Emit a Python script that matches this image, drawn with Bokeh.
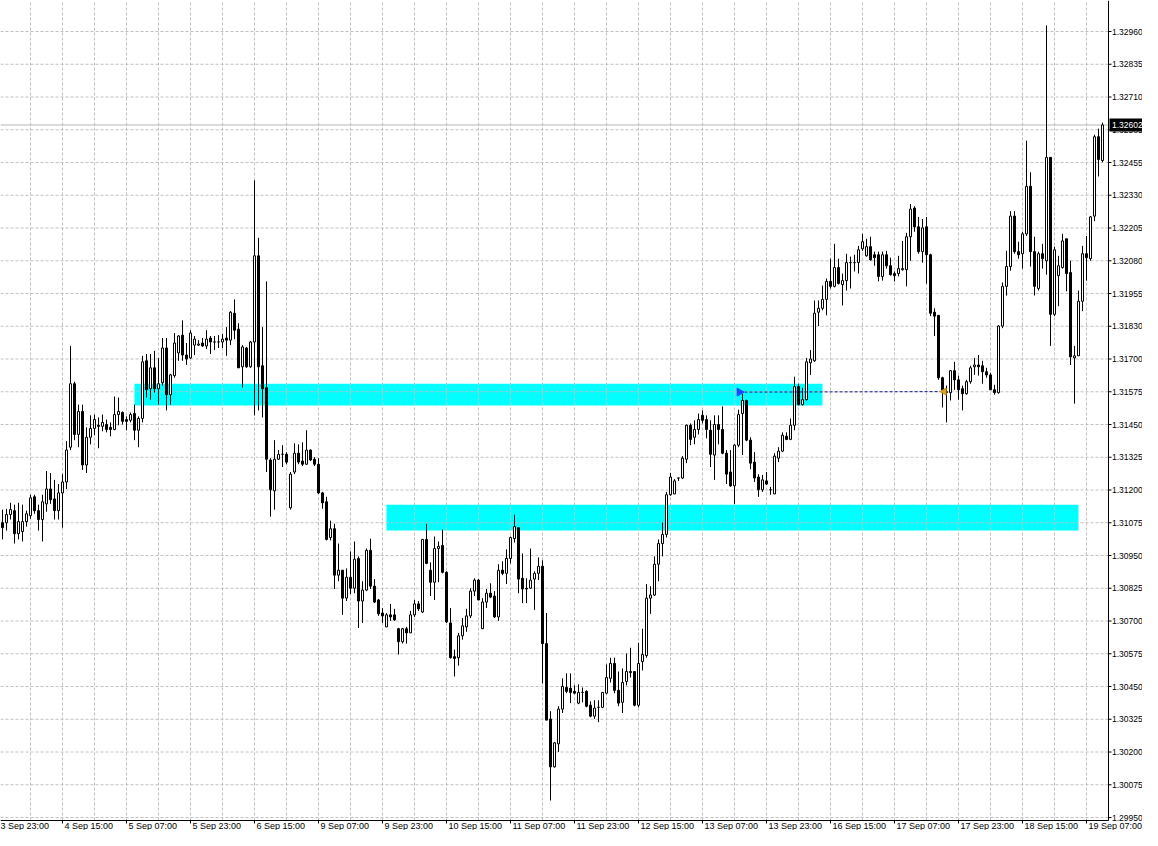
from math import pi
from bokeh.plotting import figure
from bokeh.models import Range1d
from bokeh.core.properties import value
from bokeh.embed import file_html
from bokeh.resources import INLINE

opens = [
 1.31079,1.31079,1.31110,1.31125,1.31037,1.31045,1.31083,1.31106,1.31178,1.31125,
 1.31091,1.31151,1.31208,1.31170,1.31125,1.31193,1.31235,1.31368,1.31611,1.31417,
 1.31505,1.31300,1.31406,1.31440,1.31452,1.31448,1.31455,1.31444,1.31436,1.31493,
 1.31501,1.31474,1.31471,1.31497,1.31433,1.31478,1.31699,1.31592,1.31672,1.31592,
 1.31615,1.31748,1.31569,1.31642,1.31729,1.31797,1.31721,1.31710,1.31759,1.31759,
 1.31767,1.31756,1.31786,1.31771,1.31771,1.31771,1.31786,1.31778,1.31881,1.31820,
 1.31676,1.31748,1.31676,1.31771,1.32101,1.31680,1.31596,1.31319,1.31201,1.31322,
 1.31341,1.31341,1.31136,1.31273,1.31345,1.31315,1.31303,1.31357,1.31322,1.31303,
 1.31193,1.31159,1.31022,1.31056,1.30878,1.30897,1.30790,1.30870,1.30828,1.30942,
 1.30779,1.30821,1.30973,1.30836,1.30783,1.30733,1.30680,1.30726,1.30726,1.30673,
 1.30623,1.30673,1.30657,1.30726,1.30768,1.30737,1.31015,1.30897,1.30851,1.30980,
 1.30992,1.30889,1.30695,1.30566,1.30562,1.30646,1.30680,1.30722,1.30817,1.30859,
 1.30673,1.30775,1.30809,1.30798,1.30718,1.30897,1.30885,1.30942,1.31018,1.31060,
 1.30866,1.30828,1.30828,1.30863,1.30885,1.30912,1.30616,1.30327,1.30144,1.30232,
 1.30365,1.30448,1.30445,1.30433,1.30388,1.30429,1.30433,1.30380,1.30338,1.30372,
 1.30372,1.30426,1.30483,1.30540,1.30437,1.30391,1.30471,1.30509,1.30509,1.30380,
 1.30547,1.30570,1.30790,1.30802,1.30920,1.30999,1.31034,1.31186,1.31189,1.31250,
 1.31250,1.31322,1.31452,1.31406,1.31436,1.31490,1.31474,1.31433,1.31338,1.31455,
 1.31436,1.31345,1.31273,1.31220,1.31376,1.31497,1.31547,1.31395,1.31311,1.31254,
 1.31205,1.31239,1.31205,1.31189,1.31326,1.31353,1.31410,1.31398,1.31452,1.31600,
 1.31531,1.31550,1.31691,1.31699,1.31885,1.31900,1.31934,1.32003,1.31984,1.32056,
 1.31991,1.32006,1.32075,1.32075,1.32075,1.32128,1.32101,1.32136,1.32105,1.32105,
 1.32022,1.32105,1.32063,1.32033,1.32033,1.32048,1.32048,1.32174,1.32284,1.32212,
 1.32117,1.32212,1.32105,1.31885,1.31873,1.31634,1.31577,1.31577,1.31661,1.31626,
 1.31592,1.31573,1.31619,1.31676,1.31683,1.31680,1.31657,1.31645,1.31588,1.31577,
 1.31832,1.31984,1.32060,1.32253,1.32117,1.32109,1.32185,1.32367,1.32117,1.31976,
 1.32109,1.32082,1.32478,1.31877,1.32025,1.32056,1.32166,1.32037,1.31710,1.31718,
 1.31927,1.32109,1.32090,1.32253,1.32557,1.32466]

highs = [
 1.31129,1.31132,1.31155,1.31148,1.31155,1.31148,1.31125,1.31186,1.31186,1.31148,
 1.31186,1.31277,1.31269,1.31243,1.31227,1.31265,1.31391,1.31756,1.31619,1.31531,
 1.31531,1.31444,1.31490,1.31493,1.31482,1.31493,1.31474,1.31463,1.31562,1.31558,
 1.31505,1.31486,1.31501,1.31531,1.31486,1.31718,1.31725,1.31725,1.31737,1.31710,
 1.31786,1.31786,1.31649,1.31805,1.31797,1.31854,1.31767,1.31816,1.31794,1.31778,
 1.31786,1.31816,1.31794,1.31794,1.31797,1.31801,1.31828,1.31889,1.31934,1.31843,
 1.31759,1.31752,1.31775,1.32390,1.32170,1.31828,1.32003,1.31326,1.31395,1.31357,
 1.31376,1.31349,1.31273,1.31383,1.31379,1.31387,1.31433,1.31360,1.31330,1.31326,
 1.31197,1.31178,1.31087,1.31075,1.30999,1.30897,1.30904,1.30969,1.31007,1.30950,
 1.30855,1.30980,1.31018,1.30863,1.30787,1.30752,1.30733,1.30768,1.30749,1.30676,
 1.30676,1.30680,1.30741,1.30783,1.30779,1.31015,1.31075,1.30927,1.31026,1.31007,
 1.31053,1.30893,1.30752,1.30593,1.30657,1.30714,1.30749,1.30828,1.30866,1.30863,
 1.30790,1.30825,1.30847,1.30817,1.30920,1.30931,1.30977,1.31026,1.31110,1.31060,
 1.30961,1.30866,1.30980,1.30893,1.30946,1.30935,1.30733,1.30357,1.30239,1.30376,
 1.30483,1.30502,1.30502,1.30456,1.30460,1.30448,1.30437,1.30395,1.30399,1.30399,
 1.30429,1.30536,1.30562,1.30562,1.30509,1.30521,1.30578,1.30600,1.30509,1.30619,
 1.30673,1.30844,1.30836,1.30950,1.31015,1.31079,1.31197,1.31269,1.31246,1.31250,
 1.31334,1.31455,1.31459,1.31471,1.31497,1.31509,1.31490,1.31471,1.31490,1.31490,
 1.31524,1.31357,1.31357,1.31379,1.31512,1.31573,1.31550,1.31406,1.31349,1.31265,
 1.31262,1.31273,1.31216,1.31345,1.31368,1.31425,1.31425,1.31478,1.31638,1.31611,
 1.31596,1.31710,1.31740,1.31930,1.31930,1.31987,1.32014,1.32090,1.32147,1.32090,
 1.32033,1.32109,1.32098,1.32105,1.32139,1.32185,1.32166,1.32174,1.32117,1.32117,
 1.32117,1.32120,1.32094,1.32041,1.32101,1.32158,1.32189,1.32299,1.32291,1.32250,
 1.32242,1.32250,1.32109,1.31900,1.31873,1.31638,1.31604,1.31664,1.31695,1.31642,
 1.31604,1.31626,1.31680,1.31710,1.31721,1.31699,1.31672,1.31653,1.31607,1.31835,
 1.31999,1.32120,1.32272,1.32272,1.32155,1.32193,1.32542,1.32421,1.32174,1.32117,
 1.32147,1.32983,1.32478,1.32136,1.32101,1.32185,1.32166,1.32082,1.31756,1.31968,
 1.32139,1.32177,1.32253,1.32565,1.32588,1.32611]

lows = [
 1.31015,1.31049,1.31091,1.30999,1.31015,1.31007,1.31064,1.31094,1.31113,1.31049,
 1.31007,1.31121,1.31151,1.31091,1.31091,1.31060,1.31208,1.31357,1.31395,1.31368,
 1.31281,1.31269,1.31379,1.31414,1.31364,1.31429,1.31425,1.31410,1.31433,1.31452,
 1.31455,1.31433,1.31463,1.31395,1.31368,1.31463,1.31558,1.31550,1.31577,1.31531,
 1.31604,1.31509,1.31531,1.31634,1.31699,1.31699,1.31683,1.31706,1.31721,1.31756,
 1.31752,1.31744,1.31725,1.31740,1.31748,1.31748,1.31718,1.31759,1.31782,1.31672,
 1.31596,1.31672,1.31672,1.31490,1.31509,1.31482,1.31273,1.31102,1.31129,1.31319,
 1.31292,1.31303,1.31129,1.31265,1.31303,1.31296,1.31300,1.31315,1.31296,1.31189,
 1.31132,1.31011,1.31011,1.30825,1.30855,1.30726,1.30779,1.30806,1.30809,1.30676,
 1.30695,1.30817,1.30825,1.30771,1.30722,1.30695,1.30680,1.30703,1.30703,1.30574,
 1.30616,1.30616,1.30657,1.30718,1.30741,1.30733,1.30920,1.30798,1.30783,1.30851,
 1.30885,1.30695,1.30559,1.30490,1.30532,1.30631,1.30661,1.30714,1.30798,1.30783,
 1.30673,1.30752,1.30790,1.30714,1.30703,1.30878,1.30844,1.30923,1.31003,1.30809,
 1.30771,1.30771,1.30825,1.30745,1.30859,1.30464,1.30323,1.30015,1.30141,1.30201,
 1.30350,1.30426,1.30388,1.30422,1.30384,1.30391,1.30372,1.30334,1.30327,1.30315,
 1.30369,1.30422,1.30467,1.30426,1.30376,1.30350,1.30456,1.30486,1.30376,1.30372,
 1.30513,1.30562,1.30730,1.30798,1.30855,1.30950,1.31022,1.31182,1.31189,1.31239,
 1.31246,1.31307,1.31376,1.31379,1.31417,1.31459,1.31402,1.31292,1.31243,1.31379,
 1.31341,1.31227,1.31216,1.31151,1.31368,1.31338,1.31391,1.31284,1.31235,1.31178,
 1.31197,1.31224,1.31186,1.31189,1.31311,1.31349,1.31395,1.31395,1.31433,1.31528,
 1.31528,1.31547,1.31645,1.31695,1.31832,1.31892,1.31873,1.31976,1.31980,1.31991,
 1.31911,1.31968,1.31976,1.32041,1.32033,1.32120,1.32098,1.32082,1.32063,1.32003,
 1.32006,1.32052,1.32025,1.32003,1.32022,1.32044,1.31984,1.32082,1.32193,1.32109,
 1.32075,1.31995,1.31870,1.31794,1.31626,1.31520,1.31463,1.31547,1.31588,1.31550,
 1.31509,1.31569,1.31611,1.31645,1.31642,1.31611,1.31634,1.31588,1.31569,1.31573,
 1.31824,1.31949,1.32044,1.32109,1.32090,1.32052,1.32177,1.32060,1.31949,1.31968,
 1.32052,1.32029,1.31756,1.31870,1.31908,1.32052,1.31965,1.31683,1.31535,1.31718,
 1.31889,1.32006,1.32082,1.32234,1.32405,1.32459]

closes = [
 1.31060,1.31110,1.31129,1.31037,1.31083,1.31083,1.31113,1.31174,1.31125,1.31091,
 1.31159,1.31208,1.31167,1.31125,1.31193,1.31235,1.31357,1.31611,1.31417,1.31505,
 1.31300,1.31406,1.31440,1.31474,1.31448,1.31463,1.31436,1.31436,1.31493,1.31505,
 1.31467,1.31467,1.31493,1.31433,1.31478,1.31695,1.31588,1.31672,1.31592,1.31611,
 1.31748,1.31569,1.31645,1.31767,1.31794,1.31721,1.31706,1.31805,1.31782,1.31763,
 1.31756,1.31782,1.31771,1.31771,1.31771,1.31782,1.31778,1.31885,1.31816,1.31672,
 1.31752,1.31676,1.31771,1.32101,1.31676,1.31592,1.31322,1.31205,1.31322,1.31341,
 1.31341,1.31311,1.31265,1.31345,1.31311,1.31303,1.31357,1.31319,1.31303,1.31193,
 1.31155,1.31015,1.31056,1.30878,1.30897,1.30790,1.30870,1.30828,1.30939,1.30779,
 1.30821,1.30973,1.30836,1.30775,1.30730,1.30722,1.30726,1.30718,1.30707,1.30623,
 1.30673,1.30657,1.30726,1.30768,1.30749,1.31015,1.30923,1.30851,1.30980,1.30988,
 1.30889,1.30699,1.30562,1.30559,1.30646,1.30684,1.30722,1.30817,1.30859,1.30783,
 1.30775,1.30809,1.30794,1.30718,1.30897,1.30885,1.30942,1.31022,1.31064,1.30863,
 1.30825,1.30825,1.30859,1.30885,1.30912,1.30616,1.30323,1.30144,1.30236,1.30365,
 1.30452,1.30433,1.30429,1.30426,1.30429,1.30429,1.30376,1.30338,1.30369,1.30372,
 1.30429,1.30486,1.30540,1.30437,1.30388,1.30467,1.30509,1.30505,1.30380,1.30540,
 1.30574,1.30790,1.30802,1.30920,1.30999,1.31034,1.31186,1.31254,1.31239,1.31250,
 1.31326,1.31452,1.31398,1.31436,1.31474,1.31471,1.31436,1.31341,1.31455,1.31436,
 1.31345,1.31265,1.31220,1.31376,1.31493,1.31547,1.31395,1.31307,1.31250,1.31205,
 1.31243,1.31227,1.31205,1.31334,1.31353,1.31414,1.31398,1.31452,1.31600,1.31531,
 1.31550,1.31695,1.31706,1.31881,1.31900,1.31934,1.32003,1.31984,1.32056,1.31995,
 1.32006,1.32075,1.32075,1.32075,1.32124,1.32155,1.32136,1.32086,1.32094,1.32022,
 1.32105,1.32063,1.32029,1.32025,1.32052,1.32052,1.32174,1.32280,1.32212,1.32117,
 1.32208,1.32105,1.31881,1.31870,1.31634,1.31577,1.31581,1.31661,1.31626,1.31588,
 1.31573,1.31619,1.31672,1.31683,1.31676,1.31657,1.31645,1.31588,1.31577,1.31832,
 1.31984,1.32060,1.32253,1.32117,1.32105,1.32185,1.32367,1.32117,1.31984,1.32109,
 1.32090,1.32478,1.31877,1.32124,1.32063,1.32158,1.32033,1.31714,1.31718,1.31927,
 1.32109,1.32094,1.32250,1.32557,1.32470,1.32602]

date_labels = ["3 Sep 23:00", "4 Sep 15:00", "5 Sep 07:00", "5 Sep 23:00",
               "6 Sep 15:00", "9 Sep 07:00", "9 Sep 23:00", "10 Sep 15:00",
               "11 Sep 07:00", "11 Sep 23:00", "12 Sep 15:00", "13 Sep 07:00",
               "13 Sep 23:00", "16 Sep 15:00", "17 Sep 07:00", "17 Sep 23:00",
               "18 Sep 15:00", "19 Sep 07:00"]
date_label_bars = [-1 + 16 * k for k in range(len(date_labels))]
grid_bars = [-1 + 8 * k for k in range(1, 35)]

price_labels = ["1.32960", "1.32835", "1.32710", "1.32585", "1.32455", "1.32330",
                "1.32205", "1.32080", "1.31955", "1.31830", "1.31700", "1.31575",
                "1.31450", "1.31325", "1.31200", "1.31075", "1.30950", "1.30825",
                "1.30700", "1.30575", "1.30450", "1.30325", "1.30200", "1.30075",
                "1.29950"]
price_top = 1.32960
price_bottom = 1.29950

zone_left = [33, 96]
zone_right = [205, 269]
zone_top = [1.31611, 1.31148]
zone_bottom = [1.31528, 1.31049]

trade_x = [184.25, 235.4]
trade_y = [1.31579, 1.31581]
last_price = 1.32602
last_label = "1.32602"

# ---------------- layout (pixels -> data units) ----------------
W, H = 1142, 830
s = 4.0                    # px per bar
bx = 1.0 / s               # bars per px
x_lo = -0.5
x_ax = x_lo + 1108 * bx    # right price-scale line
x_hi = x_lo + W * bx
TOP_PX, BOT_PX = 31, 817   # pixel rows of first and last price label
k = (price_top - price_bottom) / (BOT_PX - TOP_PX)   # price per px
y_hi = price_top + TOP_PX * k
y_lo = y_hi - H * k
y_ax = y_hi - 820 * k      # bottom time-scale line

font = "Liberation Sans"
n = len(opens)
idx = list(range(n))
ticks = [price_top - j * (price_top - price_bottom) / (len(price_labels) - 1)
         for j in range(len(price_labels))]

p = figure(width=W, height=H, output_backend="svg", toolbar_location=None,
           x_range=Range1d(x_lo, x_hi), y_range=Range1d(y_lo, y_hi),
           x_axis_location=None, y_axis_location=None,
           min_border_left=0, min_border_right=0, min_border_top=0, min_border_bottom=0)
p.outline_line_color = None
p.background_fill_color = "white"
p.border_fill_color = "white"
p.grid.visible = False

# support / resistance zones
p.quad(left=zone_left, right=zone_right, top=zone_top, bottom=zone_bottom,
       fill_color="#00ffff", line_color=None)

# grid
grid_col = "#c0c0c0"
p.segment(x0=[x_lo] * len(ticks), x1=[x_ax] * len(ticks), y0=ticks, y1=ticks,
          line_color=grid_col, line_dash="3 2", line_width=1)
p.segment(x0=grid_bars, x1=grid_bars, y0=[y_ax] * len(grid_bars),
          y1=[y_hi] * len(grid_bars), line_color=grid_col, line_dash="3 2", line_width=1)

# current bid line
p.segment(x0=[x_lo], x1=[x_ax], y0=[last_price], y1=[last_price],
          line_color="#b8b8b8", line_width=1)

# candles
up = [c >= o for o, c in zip(opens, closes)]
tops = [max(o, c) for o, c in zip(opens, closes)]
bots = [min(o, c) for o, c in zip(opens, closes)]
p.segment(x0=idx, x1=idx, y0=lows, y1=highs, line_color="black", line_width=1)
wi = [i for i in idx if up[i]]
p.vbar(x=wi, top=[tops[i] for i in wi], bottom=[bots[i] for i in wi], width=0.5,
       fill_color="white", line_color="black", line_width=1)
bi = [i for i in idx if not up[i]]
p.vbar(x=bi, top=[tops[i] for i in bi], bottom=[bots[i] for i in bi], width=0.5,
       fill_color="black", line_color="black", line_width=1)

# closed trade
p.line(trade_x, trade_y, line_color="#1a1a8c", line_dash="3 2", line_width=1)
p.scatter([trade_x[0]], [trade_y[0]], marker="triangle", size=8, angle=-pi / 2,
          fill_color="#1e46ff", line_color="#1e46ff")
p.scatter([trade_x[1]], [trade_y[1]], marker="triangle", size=7, angle=pi / 2,
          fill_color="#daa520", line_color="#c8961e")

# price scale
p.segment(x0=[x_ax], x1=[x_ax], y0=[y_ax], y1=[y_hi], line_color="black", line_width=1)
p.segment(x0=[x_ax] * len(ticks), x1=[x_ax + 3 * bx] * len(ticks), y0=ticks, y1=ticks,
          line_color="black", line_width=1)
p.text(x=[x_ax + 3.5 * bx] * len(ticks), y=ticks, text=price_labels,
       text_font=value(font), text_font_size=value("8.5px"), text_color="black",
       text_align="left", text_baseline="middle")
p.quad(left=[x_ax + 1 * bx], right=[x_hi], top=[last_price + 6.5 * k],
       bottom=[last_price - 6.5 * k], fill_color="black", line_color=None)
p.text(x=[x_ax + 3.5 * bx], y=[last_price], text=[last_label],
       text_font=value(font), text_font_size=value("8.5px"), text_color="white",
       text_align="left", text_baseline="middle")

# time scale
p.segment(x0=[x_lo], x1=[x_ax], y0=[y_ax], y1=[y_ax], line_color="black", line_width=1)
p.segment(x0=date_label_bars, x1=date_label_bars, y0=[y_ax] * len(date_label_bars),
          y1=[y_ax - 3 * k] * len(date_label_bars), line_color="black", line_width=1)
p.text(x=[b + 2 * bx for b in date_label_bars], y=[y_ax - 5.5 * k] * len(date_labels),
       text=date_labels, text_font=value(font), text_font_size=value("9px"),
       text_color="black", text_align="left", text_baseline="middle")

open("out.html", "w").write(file_html(p, INLINE))
